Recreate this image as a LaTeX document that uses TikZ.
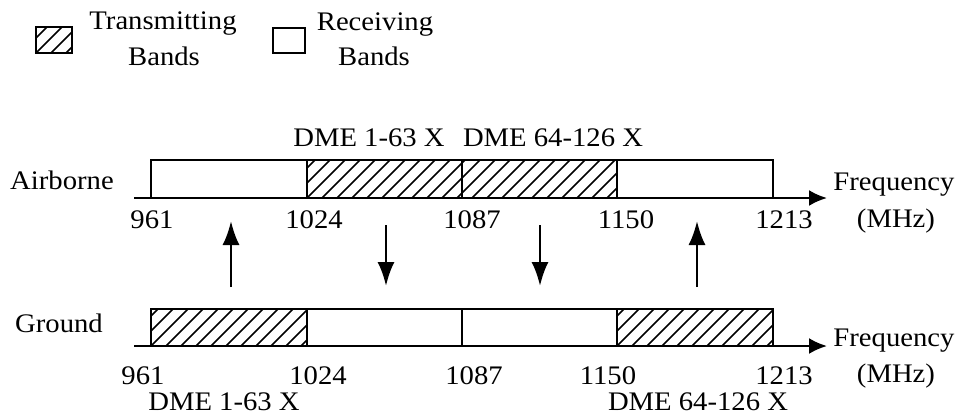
\documentclass[tikz,border=0pt]{standalone}
\usepackage{fontspec}
\setmainfont{Liberation Serif}[FakeStretch=1.07]
\usetikzlibrary{arrows.meta}
\newcommand{\hatchbox}[4]{% x1, x2, ytop, ybot
  \begin{scope}
    \clip (#1,#3) rectangle (#2,#4);
    \foreach \i in {-60,-45,...,420} {
      \draw[hatchline] ({#1+\i},#4) -- ++(70,-70);
    }
  \end{scope}
}
\tikzset{
  lbl/.style={anchor=base, inner sep=0pt, font=\fontsize{26.8}{30}\selectfont},
  bandline/.style={line width=2.3pt, line join=miter},
  hatchline/.style={line width=1.6pt},
  axisline/.style={line width=2.4pt, -{Latex[length=18pt,width=16pt]}},
  linkarrow/.style={line width=2.5pt, -{Latex[length=24pt,width=17pt]}},
}
\begin{document}
\begin{tikzpicture}[x=1pt,y=-1pt]
\useasboundingbox (0,0) rectangle (960,416);

% ---------- legend ----------
\hatchbox{36}{72}{27}{53}
\draw[bandline, line width=2.5pt] (36,27) rectangle (72,53);
\node[lbl] (tx1) at (163,29) {Transmitting};
\node[lbl] (tx2) at (164,65) {Bands};
\draw[bandline, line width=2.5pt] (273,28) rectangle (305,53);
\node[lbl] (rx1) at (375,30) {Receiving};
\node[lbl] (rx2) at (374,65) {Bands};

% ---------- airborne ----------
\coordinate (aS) at (134,198);
\coordinate (aE) at (827,198);
\hatchbox{307}{617}{160}{198}
\draw[bandline] (151,198) -- (151,160) -- (773,160) -- (773,198);
\draw[bandline] (307,160) -- (307,198);
\draw[bandline] (462,160) -- (462,198);
\draw[bandline] (617,160) -- (617,198);
\draw[axisline] (aS) -- (aE);
\node[lbl] (airb) at (62,189) {Airborne};
\node[lbl] (adme1) at (369,146) {DME 1-63 X};
\node[lbl] (adme2) at (553,146) {DME 64-126 X};
\node[lbl] (a961) at (152,228) {961};
\node[lbl] (a1024) at (314,228) {1024};
\node[lbl] (a1087) at (472,228) {1087};
\node[lbl] (a1150) at (626,228) {1150};
\node[lbl] (a1213) at (784,228) {1213};
\node[lbl] (afreq) at (894,190) {Frequency};
\node[lbl] (amhz) at (896,227) {(MHz)};

% ---------- ground ----------
\coordinate (gS) at (134,346);
\coordinate (gE) at (827,346);
\hatchbox{151}{307}{309}{346}
\hatchbox{617}{773}{309}{346}
\draw[bandline] (151,346) -- (151,309) -- (773,309) -- (773,346);
\draw[bandline] (307,309) -- (307,346);
\draw[bandline] (462,309) -- (462,346);
\draw[bandline] (617,309) -- (617,346);
\draw[axisline] (gS) -- (gE);
\node[lbl] (grnd) at (59,332) {Ground};
\node[lbl] (g961) at (143,384) {961};
\node[lbl] (g1024) at (318,384) {1024};
\node[lbl] (g1087) at (474,384) {1087};
\node[lbl] (g1150) at (608,384) {1150};
\node[lbl] (g1213) at (784,384) {1213};
\node[lbl] (gdme1) at (224,410) {DME 1-63 X};
\node[lbl] (gdme2) at (698,410) {DME 64-126 X};
\node[lbl] (gfreq) at (894,346) {Frequency};
\node[lbl] (gmhz) at (896,382) {(MHz)};

% ---------- link arrows ----------
\coordinate (u1b) at (231,287); \coordinate (u1t) at (231,221);
\coordinate (d1t) at (386,225); \coordinate (d1b) at (386,286);
\coordinate (d2t) at (540,225); \coordinate (d2b) at (540,286);
\coordinate (u2b) at (697,287); \coordinate (u2t) at (697,221);
\draw[linkarrow] (u1b) -- (u1t);
\draw[linkarrow] (d1t) -- (d1b);
\draw[linkarrow] (d2t) -- (d2b);
\draw[linkarrow] (u2b) -- (u2t);
\end{tikzpicture}
\end{document}
